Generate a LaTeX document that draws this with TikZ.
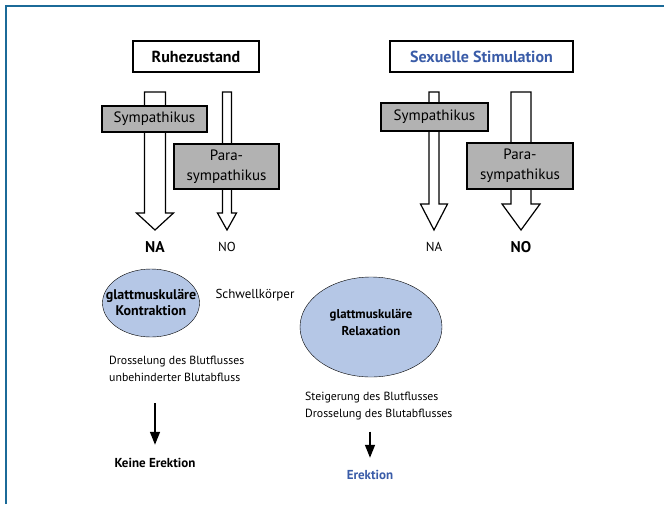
\documentclass[tikz,border=0pt]{standalone}
\usepackage{fontspec}
\setmainfont{PT Sans}
\usetikzlibrary{shapes,arrows.meta}
\definecolor{frameBlue}{RGB}{27,106,152}
\definecolor{boxGray}{RGB}{178,178,178}
\definecolor{ellBlue}{RGB}{181,199,230}
\definecolor{textBlue}{RGB}{58,92,168}
\tikzset{
    pics/hollowArrow/.style n args={3}{code={
		\filldraw[fill=white, line width=1.2pt] (-#1,-138) -- (#1,-138) -- (#1,-#3) -- (#2,-#3) -- (0,0) -- (-#2,-#3) -- (-#1,-#3) -- cycle;
	}}
}
\tikzset{
    stateBox/.style={draw, line width=1.5pt, fill=white, minimum height=31pt, font=\fontsize{16}{18}\selectfont\bfseries},
    nerveBox/.style={draw, line width=1.3pt, fill=boxGray, align=center, inner sep=1pt, font=\fontsize{15}{20}\selectfont},
    muscle/.style={ellipse, draw, fill=ellBlue, align=center, inner sep=0pt},
    transmitter/.style={font=\fontsize{13}{15}\selectfont},
    transmitterMain/.style={font=\fontsize{15.5}{18}\selectfont\bfseries},
    flowText/.style={align=left, inner sep=0pt, font=\fontsize{11.8}{17}\selectfont},
    result/.style={font=\fontsize{13}{15}\selectfont\bfseries},
    smallArrow/.style={line width=1.5pt, -{Triangle[length=13pt,width=10pt]}}
}
\begin{document}
\begin{tikzpicture}[x=1pt, y=-1pt]
			\useasboundingbox (0,0) rectangle (664,504);
			\draw[frameBlue, line width=2pt] (6,504) -- (6,6) -- (664,6);
			\node[stateBox, minimum width=126pt] (ruhe) at (196,56.5) {Ruhezustand};
			\node[stateBox, minimum width=183pt, text=textBlue] (sexuell) at (481.5,56.5) {Sexuelle Stimulation};
			\pic at (155,230) {hollowArrow={10.5}{18.5}{17}};
			\pic at (227,230) {hollowArrow={4.5}{9.5}{17}};
			\pic at (434,230) {hollowArrow={5}{13.5}{26}};
			\pic at (521,230) {hollowArrow={10}{19}{26}};
			\node[nerveBox, minimum width=105pt, minimum height=26pt] (sympL) at (154.5,119) {Sympathikus};
			\node[nerveBox, minimum width=105pt, minimum height=45pt] (paraL) at (226.5,166.5) {Para-\\sympathikus};
			\node[nerveBox, minimum width=107pt, minimum height=28pt] (sympR) at (434.5,117) {Sympathikus};
			\node[nerveBox, minimum width=106pt, minimum height=46pt] (paraR) at (520,166) {Para-\\sympathikus};
			\node[transmitterMain] (naL) at (155,247) {NA};
			\node[transmitter] (noL) at (227,247) {NO};
			\node[transmitter] (naR) at (434,247) {NA};
			\node[transmitterMain] (noR) at (521,247) {NO};
			\node[muscle, minimum width=97pt, minimum height=68pt, inner xsep=-13pt, font=\fontsize{14}{16}\selectfont\bfseries] (ellL) at (151,303) {glattmuskuläre\\Kontraktion};
			\node[muscle, minimum width=142pt, minimum height=100pt, text depth=9pt, font=\fontsize{12.8}{17}\selectfont\bfseries] (ellR) at (371,327) {glattmuskuläre\\Relaxation};
			\node[font=\fontsize{13}{15}\selectfont] (schwell) at (255,295) {Schwellkörper};
			\node[flowText, anchor=west] (flowL) at (109,368.5) {Drosselung des Blutflusses\\unbehinderter Blutabfluss};
			\node[flowText, anchor=west] (flowR) at (305,406.5) {Steigerung des Blutflusses\\Drosselung des Blutabflusses};
			\node[result] (keineE) at (155,463) {Keine Erektion};
			\node[result, text=textBlue] (erektion) at (370,475) {Erektion};
			\draw[smallArrow, shorten <=22pt, shorten >=10pt] (flowL.south -| keineE) -- (keineE.north);
			\draw[smallArrow, shorten <=11pt, shorten >=9pt] (flowR.south -| erektion) -- (erektion.north);
		\end{tikzpicture}
\end{document}
